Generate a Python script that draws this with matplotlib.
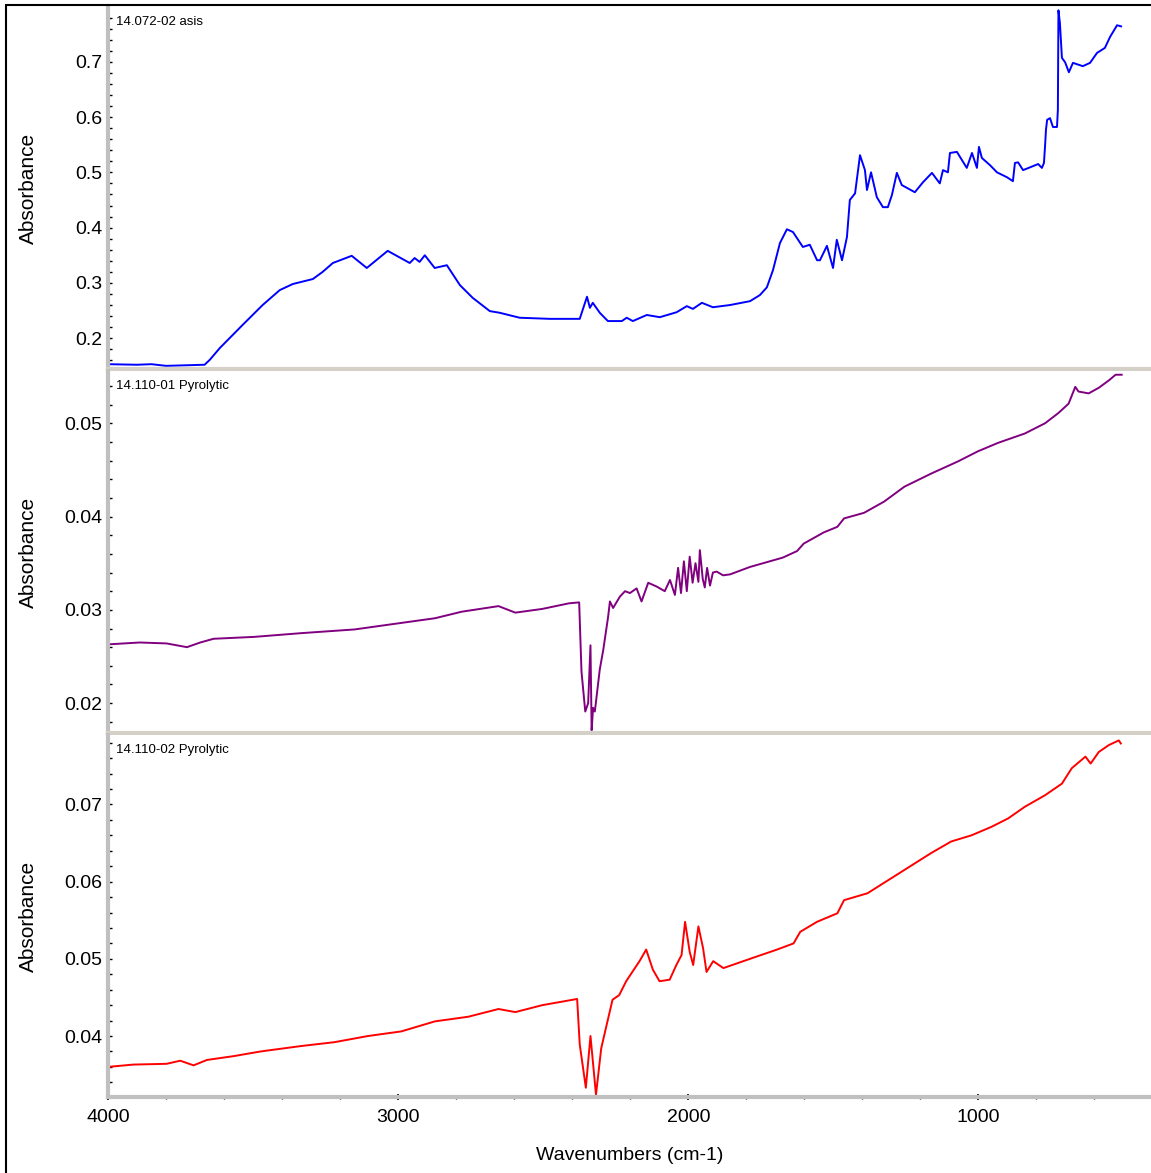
import matplotlib.pyplot as plt
from matplotlib.ticker import MultipleLocator
from matplotlib.patches import Rectangle

plt.rcParams['font.family'] = ['Liberation Sans', 'DejaVu Sans']

# --- spectra (wavenumber cm-1, absorbance) ---
asis_wn = [4000, 3900, 3850, 3800, 3667, 3649, 3615, 3536, 3467, 3408, 3363, 3294, 3260,
           3225, 3160, 3108, 3036, 2960, 2943, 2926, 2908, 2874, 2832, 2787, 2743, 2684,
           2650, 2581, 2477, 2374, 2349, 2339, 2329, 2305, 2277, 2229, 2212, 2191, 2143,
           2098, 2040, 2005, 1984, 1953, 1915, 1856, 1787, 1753, 1729, 1708, 1684, 1660,
           1639, 1605, 1581, 1556, 1546, 1522, 1501, 1488, 1470, 1453, 1443, 1425, 1408,
           1391, 1384, 1370, 1350, 1329, 1312, 1298, 1281, 1264, 1219, 1191, 1160, 1133,
           1122, 1105, 1098, 1074, 1040, 1022, 1005, 998, 988, 960, 936, 901, 881, 874,
           863, 846, 822, 794, 781, 774, 770, 767, 763, 753, 743, 729, 726, 724, 719, 712,
           701, 688, 674, 640, 615, 591, 564, 546, 522, 508]
asis_ab = [0.153, 0.152, 0.153, 0.150, 0.152, 0.161, 0.182, 0.224, 0.260, 0.287, 0.298,
           0.307, 0.320, 0.336, 0.349, 0.327, 0.358, 0.336, 0.345, 0.338, 0.350, 0.327,
           0.332, 0.296, 0.273, 0.249, 0.246, 0.237, 0.235, 0.235, 0.275, 0.255, 0.264,
           0.246, 0.231, 0.231, 0.237, 0.231, 0.242, 0.238, 0.247, 0.258, 0.253, 0.264,
           0.256, 0.260, 0.267, 0.278, 0.292, 0.323, 0.372, 0.397, 0.392, 0.365, 0.369,
           0.341, 0.341, 0.367, 0.327, 0.378, 0.341, 0.383, 0.450, 0.462, 0.531, 0.504,
           0.468, 0.500, 0.455, 0.437, 0.437, 0.459, 0.499, 0.477, 0.464, 0.482, 0.499,
           0.480, 0.504, 0.500, 0.535, 0.537, 0.508, 0.535, 0.508, 0.546, 0.526, 0.513,
           0.500, 0.491, 0.484, 0.517, 0.518, 0.504, 0.509, 0.515, 0.508, 0.517, 0.549,
           0.577, 0.595, 0.598, 0.582, 0.582, 0.613, 0.793, 0.770, 0.707, 0.699, 0.681,
           0.698, 0.692, 0.698, 0.716, 0.725, 0.745, 0.766, 0.764]

pyro1_wn = [4000, 3890, 3798, 3728, 3682, 3636, 3497, 3335, 3150, 3035, 2873, 2781, 2654,
            2596, 2503, 2411, 2376, 2368, 2355, 2345, 2337, 2333, 2328, 2322, 2305, 2293,
            2276, 2270, 2259, 2236, 2218, 2201, 2178, 2161, 2138, 2109, 2081, 2063, 2046,
            2035, 2025, 2015, 2005, 1995, 1985, 1975, 1965, 1960, 1950, 1943, 1935, 1925,
            1915, 1902, 1880, 1856, 1787, 1674, 1625, 1602, 1533, 1486, 1463, 1394, 1325,
            1255, 1163, 1071, 1001, 932, 840, 770, 724, 689, 666, 655, 620, 585, 550, 527,
            506]
pyro1_ab = [0.0263, 0.0265, 0.0264, 0.0260, 0.0265, 0.0269, 0.0271, 0.0275, 0.0279,
            0.0284, 0.0291, 0.0298, 0.0304, 0.0297, 0.0301, 0.0307, 0.0308, 0.0234, 0.0191,
            0.0200, 0.0262, 0.0171, 0.0195, 0.0191, 0.0236, 0.0257, 0.0293, 0.0309, 0.0302,
            0.0314, 0.0320, 0.0318, 0.0323, 0.0309, 0.0329, 0.0325, 0.0320, 0.0332, 0.0316,
            0.0345, 0.0318, 0.0352, 0.0320, 0.0357, 0.0329, 0.0350, 0.0330, 0.0364, 0.0333,
            0.0324, 0.0345, 0.0326, 0.0340, 0.0341, 0.0337, 0.0338, 0.0346, 0.0356, 0.0363,
            0.0371, 0.0383, 0.0389, 0.0398, 0.0404, 0.0416, 0.0432, 0.0446, 0.0459, 0.0470,
            0.0479, 0.0489, 0.0500, 0.0511, 0.0521, 0.0539, 0.0534, 0.0532, 0.0538, 0.0546,
            0.0552, 0.0552]

pyro2_wn = [4000, 3913, 3798, 3751, 3705, 3659, 3566, 3474, 3335, 3220, 3104, 2989, 2873,
            2758, 2654, 2596, 2503, 2383, 2374, 2353, 2337, 2318, 2300, 2284, 2261, 2238,
            2214, 2191, 2168, 2145, 2122, 2099, 2064, 2041, 2023, 2011, 1995, 1983, 1965,
            1949, 1937, 1914, 1879, 1833, 1764, 1694, 1637, 1614, 1556, 1486, 1463, 1382,
            1302, 1163, 1094, 1024, 955, 897, 840, 770, 712, 678, 631, 613, 585, 550, 516,
            509]
pyro2_ab = [0.0360, 0.0363, 0.0364, 0.0368, 0.0362, 0.0369, 0.0374, 0.0380, 0.0387,
            0.0392, 0.0400, 0.0406, 0.0419, 0.0425, 0.0435, 0.0431, 0.0440, 0.0448, 0.0389,
            0.0333, 0.0400, 0.0324, 0.0384, 0.0410, 0.0447, 0.0453, 0.0471, 0.0484, 0.0497,
            0.0512, 0.0486, 0.0471, 0.0473, 0.0492, 0.0505, 0.0548, 0.0509, 0.0492, 0.0542,
            0.0514, 0.0483, 0.0497, 0.0488, 0.0494, 0.0503, 0.0512, 0.0520, 0.0535, 0.0548,
            0.0559, 0.0576, 0.0585, 0.0604, 0.0637, 0.0652, 0.0660, 0.0671, 0.0682, 0.0697,
            0.0712, 0.0727, 0.0747, 0.0762, 0.0753, 0.0768, 0.0777, 0.0783, 0.0779]

names = ['14.072-02 asis', '14.110-01 Pyrolytic', '14.110-02 Pyrolytic']
colors = ['#0000ff', '#800080', '#ff0000']

W, H = 1151, 1173
LEFT = 108

fig = plt.figure(figsize=(W / 100, H / 100), dpi=100)

# black outer frame (right/bottom edges run off the picture)
fig.add_artist(Rectangle((6 / W, -0.2), 1.5, 1.2 - 5 / H, fill=False,
                         edgecolor='black', linewidth=1.5, transform=fig.transFigure))

panels = [
    (asis_wn, asis_ab, (0.1443, 0.799), 0.1, 0.02, (7, 369)),
    (pyro1_wn, pyro1_ab, (0.0168, 0.0556), 0.01, 0.002, (371, 733)),
    (pyro2_wn, pyro2_ab, (0.0321, 0.0790), 0.01, 0.002, (735, 1097)),
]

for i, (wn, ab, ylim, major, minor, (top, bottom)) in enumerate(panels):
    ax = fig.add_axes([LEFT / W, 1 - bottom / H, 1 - LEFT / W, (bottom - top) / H])
    ax.plot(wn, ab, color=colors[i], linewidth=1.4)
    ax.set_xlim(4000, 405)
    ax.set_ylim(*ylim)
    ax.yaxis.set_major_locator(MultipleLocator(major))
    ax.yaxis.set_minor_locator(MultipleLocator(minor))
    ax.xaxis.set_major_locator(MultipleLocator(1000))
    ax.xaxis.set_minor_locator(MultipleLocator(200))

    for side in ['top', 'right']:
        ax.spines[side].set_visible(False)
    ax.spines['left'].set_color('#c0c0c0')
    ax.spines['left'].set_linewidth(3)
    ax.spines['bottom'].set_linewidth(3)

    ax.tick_params(axis='y', which='both', direction='in', length=3, width=1,
                   color='black', labelsize=14, pad=4)
    if i < 2:
        ax.spines['bottom'].set_color('#d4d0c8')
        ax.tick_params(axis='x', which='both', bottom=False, labelbottom=False)
    else:
        ax.spines['bottom'].set_color('#c0c0c0')
        ax.tick_params(axis='x', which='major', direction='inout', length=5, width=1.2,
                       labelsize=14, pad=6)
        ax.tick_params(axis='x', which='minor', direction='inout', length=3, width=1)

    ax.text(8 / (W - LEFT), 1 - 15 / (bottom - top), names[i], fontsize=9.5,
            va='center', ha='left', transform=ax.transAxes)
    fig.text(28 / W, 1 - (top + bottom) / 2 / H, 'Absorbance', rotation=90,
             fontsize=15, ha='center', va='center')

fig.text(630 / W, 1 - 1155 / H, 'Wavenumbers (cm-1)', fontsize=14, ha='center', va='center')

plt.savefig('out.png', dpi=100)
plt.close()
